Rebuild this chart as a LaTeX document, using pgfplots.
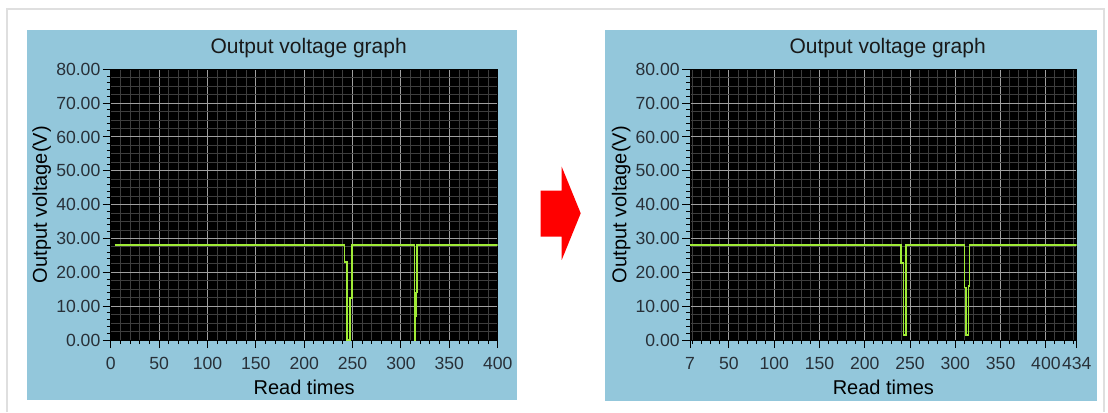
\documentclass[border=0pt]{standalone}
\usepackage{fontspec}
\setmainfont{Liberation Sans}
\usepackage{pgfplots}
\pgfplotsset{compat=1.18}
\definecolor{panel}{RGB}{147,199,219}
\definecolor{sig}{RGB}{160,235,55}
\definecolor{majg}{RGB}{160,160,160}
\definecolor{ming}{RGB}{62,62,62}
\definecolor{lbl}{RGB}{40,48,56}
\pgfplotsset{
  voltstyle/.style={
    scale only axis, width=193.5pt, height=135.35pt, anchor=south west,
    axis background/.style={fill=black},
    axis line style={black, line width=0.5pt},
    ymin=0, ymax=80,
    ytick={0,10,...,80},
    minor ytick={2.5,5,7.5,12.5,15,17.5,22.5,25,27.5,32.5,35,37.5,42.5,45,47.5,52.5,55,57.5,62.5,65,67.5,72.5,75,77.5},
    minor y tick style={draw=none},
    extra y ticks={2,4,6,8,12,14,16,18,22,24,26,28,32,34,36,38,42,44,46,48,52,54,56,58,62,64,66,68,72,74,76,78},
    extra y tick labels={},
    extra y tick style={grid=none, major tick length=2pt},
    grid=both,
    major grid style={majg, line width=0.5pt},
    minor grid style={ming, line width=0.5pt},
    tick align=outside, xtick pos=bottom, ytick pos=left,
    major tick length=4pt, minor tick length=2pt,
    tick style={black, line width=0.5pt},
    /pgf/number format/assume math mode=true,
    yticklabel style={font=\fontsize{8.8}{10}\selectfont, text=lbl, inner sep=0pt, xshift=-1pt},
    xticklabel style={font=\fontsize{8.8}{10}\selectfont, text=lbl, inner sep=0pt, yshift=-4.5pt},
    yticklabel={\pgfmathprintnumber[fixed,fixed zerofill,precision=2]{\tick}},
    xlabel={Read times}, ylabel={Output voltage(V)},
    label style={font=\fontsize{8.7}{10}\selectfont, text=black},
    every axis x label/.style={at={(axis description cs:0.5,0)}, anchor=base, yshift=-27pt},
    every axis y label/.style={at={(axis description cs:-0.178,0.5)}, anchor=center, rotate=90},
    clip=true,
  }
}
\begin{document}
\begin{tikzpicture}
\path[fill=white] (0pt,0pt) rectangle (554pt,206pt);
\draw[gray!25, line width=0.8pt] (3.5pt,0pt) -- (3.5pt,201.5pt) -- (552pt,201.5pt) -- (552pt,0pt);
\fill[panel] (13.5pt,6pt) rectangle (258.5pt,191pt);
\fill[panel] (302.5pt,5.5pt) rectangle (548.5pt,191pt);
% arrow
\fill[red] (270.35pt,87.65pt) -- (280.85pt,87.65pt) -- (280.85pt,76pt) -- (290.35pt,99.35pt) -- (280.85pt,122.65pt) -- (280.85pt,110.65pt) -- (270.35pt,110.65pt) -- cycle;
\node[anchor=base, font=\fontsize{10.5}{12}\selectfont, text=black!90] at (154.35pt,179.35pt) {Output voltage graph};
\node[anchor=base, font=\fontsize{10.5}{12}\selectfont, text=black!90] at (443.85pt,179.35pt) {Output voltage graph};
\begin{axis}[voltstyle, at={(55.35pt,36pt)},
  xmin=0, xmax=400, xtick={0,50,...,400}, minor x tick num=4]
\addplot[sig, line width=0.8pt] coordinates {
(4,28) (241.5,28) (241.5,23) (244,23) (244,0) (247.3,0) (247.3,12.5) (249.7,12.5) (249.7,28)
(314,28) (314,0) (315,0) (315,7) (315.5,7) (315.5,14) (316.5,14) (316.5,28) (400,28)};
\end{axis}
\begin{axis}[voltstyle, at={(345pt,36pt)}, width=193.35pt,
  xmin=7, xmax=434, xtick={7,50,100,150,200,250,300,350,400,434},
  minor xtick={10,20,30,40,60,70,80,90,110,120,130,140,160,170,180,190,210,220,230,240,260,270,280,290,310,320,330,340,360,370,380,390,410,420,430}]
\addplot[sig, line width=0.8pt] coordinates {
(7,28) (240,28) (240,22.7) (242.6,22.7) (242.6,1.4) (245.5,1.4) (245.5,28)
(310,28) (310,15.5) (311.8,15.5) (311.8,1.4) (314.3,1.4) (314.3,16) (315.5,16) (315.5,28) (434,28)};
\end{axis}
\end{tikzpicture}
\end{document}
